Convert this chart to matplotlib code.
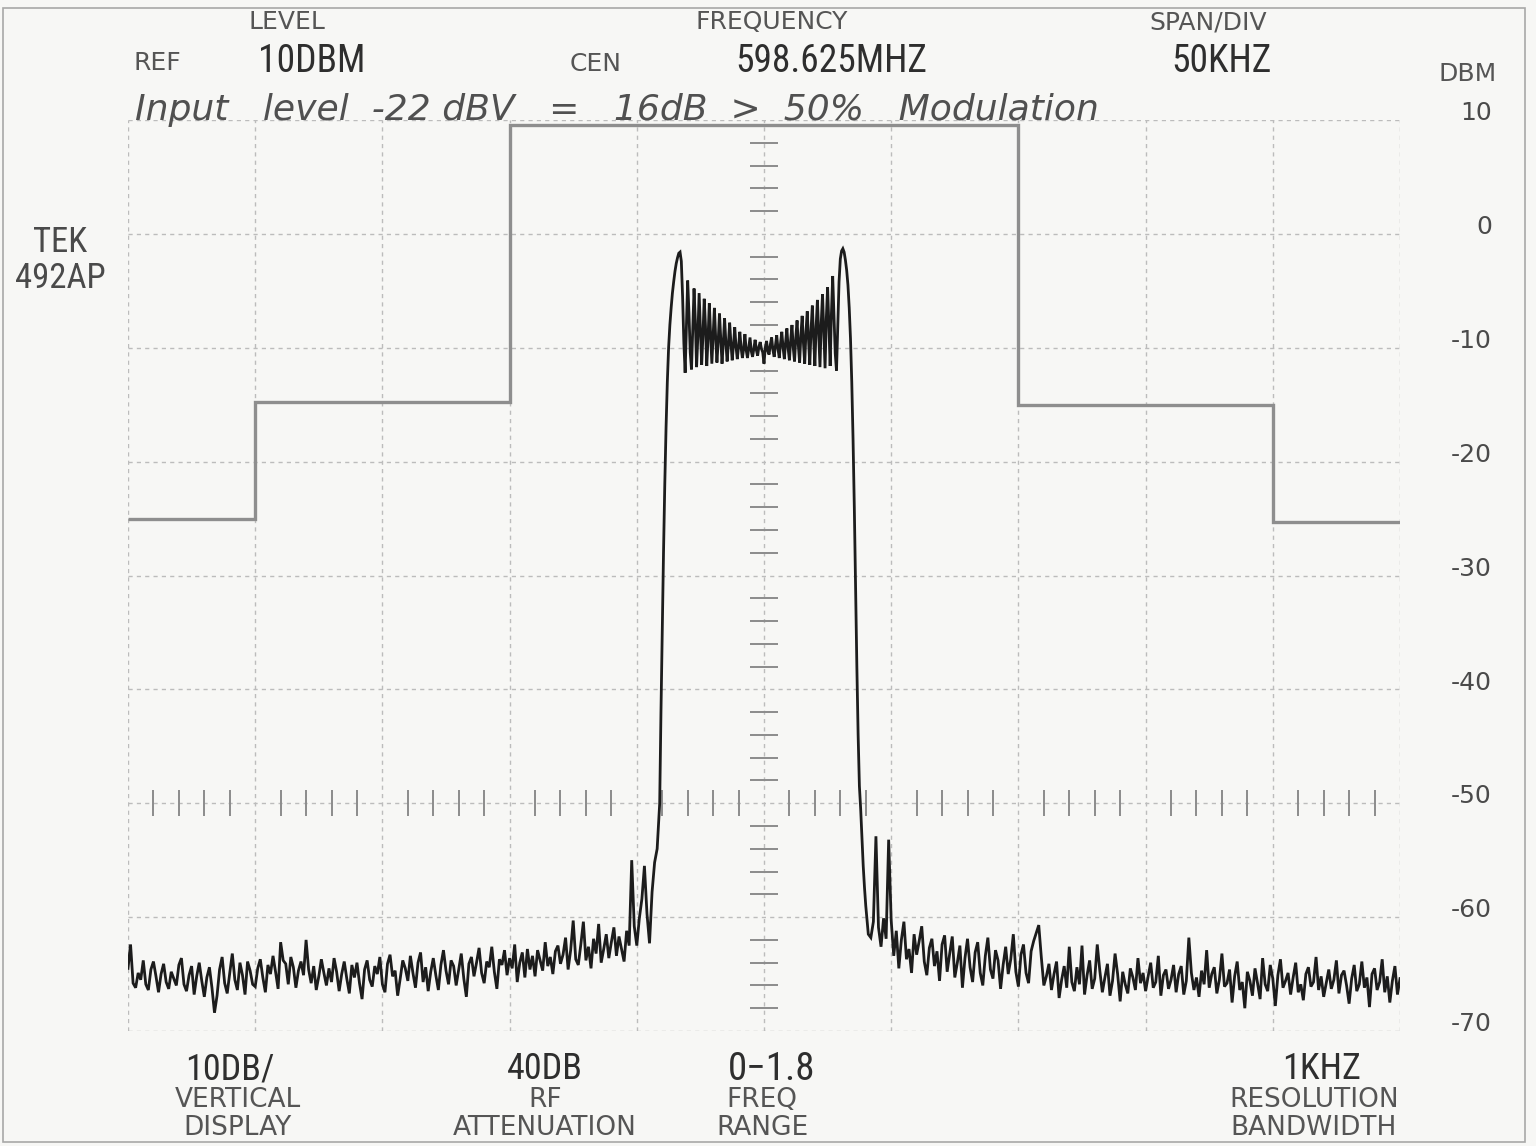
import numpy as np
import matplotlib
matplotlib.use("Agg")
import matplotlib.pyplot as plt
from matplotlib import font_manager
from matplotlib.patches import Rectangle
import matplotlib.transforms as mtransforms

# sweep centred on 598.625 MHz, offsets in kHz, levels in dBm
left_floor_dbm = [
    -64.5, -62.4, -65.8, -66.2, -64.9, -65.5, -63.8, -65.9, -66.4, -64.6,
    -63.9, -65.2, -66.6, -65.0, -64.1, -65.7, -66.3, -64.8, -65.4, -66.0,
    -64.2, -63.6, -65.9, -66.5, -65.1, -64.3, -66.8, -65.2, -64.0, -65.6,
    -67.0, -65.3, -64.4, -66.2, -68.4, -66.9, -64.6, -63.5, -65.8, -66.7,
    -64.9, -63.2, -65.5, -66.4, -64.0, -65.1, -66.8, -63.9, -64.7, -65.9,
    -66.1, -64.5, -63.7, -65.3, -66.6, -64.2, -65.0, -63.4, -64.8, -66.3,
    -62.2, -63.8, -64.1, -65.9, -63.5, -64.4, -66.2, -64.7, -63.9, -65.1,
    -62.0, -64.6, -65.8, -64.3, -66.4, -65.2, -63.7, -64.9, -66.0, -64.5,
    -65.7, -63.6, -64.8, -66.5, -65.0, -63.9, -65.4, -66.7, -64.2, -65.3,
    -64.0, -65.8, -67.2, -64.6, -63.8, -65.5, -66.1, -64.3, -65.0, -63.5,
    -65.9, -66.6, -64.1, -63.3, -65.2, -64.7, -66.9, -65.4, -63.8, -64.5,
    -65.6, -63.4, -64.9, -66.2, -64.0, -63.1, -65.7, -64.4, -66.5, -64.8,
    -63.6, -65.1, -66.4, -64.2, -62.9, -64.7, -65.9, -63.8, -64.3, -66.0,
    -64.6, -63.2, -65.4, -67.0, -64.1, -63.5, -65.2, -64.0, -62.7, -64.9,
    -65.8, -63.9, -64.4, -62.6, -64.8, -66.3, -63.7, -64.2, -62.9, -65.1,
    -63.6, -64.5, -62.4, -65.7, -64.0, -63.1, -65.3, -62.8, -64.6, -63.4,
    -65.2, -62.9, -63.8, -64.7, -62.2, -64.3, -63.5, -65.0, -63.0, -62.5,
    -64.1, -63.3, -61.8, -64.6, -62.9, -60.3, -63.7, -64.2, -62.4, -60.4,
    -63.8, -62.6, -64.5, -61.9, -63.2, -60.6, -64.0, -62.8, -61.5, -63.6,
    -62.2, -60.9, -63.4, -61.7, -62.8, -63.9, -61.2, -62.5, -55.0, -60.8,
    -62.5, -60.1, -58.4, -55.5, -59.7, -62.3, -57.8, -55.2, -54.0,
]

# carrier and modulation sidebands, -41 .. +41 kHz in 0.5 kHz steps
carrier_dbm = [
    -50.0, -42.0, -35.0, -28.0, -22.0, -17.0, -13.0, -10.0, -8.0, -6.5,
    -5.2, -4.2, -3.3, -2.6, -2.1, -1.7, -1.6, -2.4,
    -5.5, -9.6, -12.2, -8.0, -4.1, -6.9, -10.4, -11.9, -8.2, -4.8,
    -7.6, -11.7, -9.0, -5.2, -8.4, -11.5, -8.9, -5.7, -8.1, -11.6,
    -9.2, -6.1, -8.7, -11.4, -9.0, -6.5, -9.1, -11.3, -9.4, -7.0,
    -9.2, -11.4, -9.6, -7.4, -9.5, -11.2, -9.7, -7.8, -9.6, -11.1,
    -9.8, -8.2, -9.9, -11.0, -9.9, -8.6, -10.0, -10.9, -10.1, -8.8,
    -10.2, -10.9, -10.0, -9.1, -10.3, -10.8, -10.1, -9.3, -10.2, -10.7,
    -9.9, -9.5, -10.1, -10.4, -11.4, -10.0, -9.4, -10.3, -10.6, -9.7,
    -9.1, -10.2, -10.8, -9.8, -8.9, -10.1, -10.9, -9.6, -8.6, -10.0,
    -11.0, -9.5, -8.3, -10.1, -11.1, -9.3, -8.0, -10.0, -11.2, -9.1,
    -7.6, -9.8, -11.3, -8.9, -7.2, -9.6, -11.4, -8.6, -6.8, -9.3,
    -11.5, -8.4, -6.3, -9.1, -11.6, -8.1, -5.8, -8.8, -11.7, -7.8,
    -5.3, -8.5, -11.8, -7.4, -4.7, -8.0, -11.6, -7.0, -3.7, -7.2,
    -10.5, -12.0, -8.0, -4.2, -2.2, -1.5, -1.3, -1.6, -2.3, -3.2,
    -4.5, -6.5, -9.2, -13.0, -18.0, -24.0, -31.0, -38.0, -44.0, -48.5,
    -50.5, -53.0, -55.5, -57.4, -59.0, -60.2, -61.5,
]

right_floor_dbm = [
    -61.8, -60.4, -52.9, -60.9, -62.6, -60.1, -61.9, -53.2, -60.3, -63.4,
    -61.2, -64.5, -62.0, -60.4, -63.7, -62.8, -64.9, -61.5, -63.3, -62.1,
    -60.8, -63.9, -65.1, -62.7, -61.9, -64.3, -63.0, -65.6, -62.4, -61.6,
    -64.8, -63.2, -61.7, -65.3, -64.0, -62.5, -66.2, -63.6, -61.9, -64.4,
    -65.7, -63.1, -62.2, -64.9, -66.0, -63.4, -61.8, -64.6, -65.4, -62.9,
    -63.8, -66.3, -64.2, -62.6, -65.0, -63.7, -61.5, -64.8, -66.1, -63.3,
    -62.4, -64.9, -65.8, -63.0, -62.1, -61.4, -60.7, -63.5, -66.0, -65.2,
    -64.1, -66.4, -65.0, -63.9, -67.1, -65.5, -64.3, -66.2, -62.6, -65.7,
    -66.5, -64.4, -65.9, -62.5, -66.8, -65.1, -63.8, -66.3, -65.4, -62.4,
    -64.7, -66.6, -65.3, -64.1, -66.9, -65.6, -63.2, -65.0, -67.4, -64.8,
    -65.9, -66.7, -64.5, -65.3, -66.4, -63.6, -65.8, -64.9, -66.5, -65.2,
    -64.0, -66.2, -65.7, -63.4, -66.9, -65.1, -64.6, -66.3, -65.5, -64.2,
    -66.6, -65.0, -64.3, -66.8, -65.6, -61.8, -64.9, -66.4, -65.3, -67.0,
    -64.7, -65.9, -62.9, -66.2, -65.0, -64.4, -66.7, -65.5, -63.2, -66.1,
    -65.8, -64.6, -67.5, -65.2, -63.9, -66.4, -65.7, -68.0, -64.8, -65.6,
    -66.9, -64.5, -65.8, -67.2, -63.6, -65.9, -66.5, -64.2, -65.4, -67.8,
    -65.1, -63.7, -66.2, -65.6, -64.9, -66.8, -65.3, -64.0, -66.6, -65.9,
    -67.3, -65.0, -64.4, -66.1, -65.7, -63.5, -66.4, -65.2, -67.0, -65.8,
    -64.6, -66.3, -65.5, -63.8, -66.7, -65.1, -64.7, -66.0, -67.6, -65.4,
    -64.2, -66.5, -65.9, -63.9, -66.2, -65.3, -67.9, -65.0, -64.5, -66.4,
    -65.7, -63.7, -66.6, -65.2, -67.5, -65.6, -64.3, -66.8, -65.4,
]

left_floor_khz = np.arange(-250, -41, 1.0)
carrier_khz = np.arange(-41, 41.25, 0.5)
right_floor_khz = np.arange(42, 251, 1.0)

# limit mask edges (kHz) and levels (dBm)
mask_khz = [-250, -200, -100, 100, 200, 250]
mask_dbm = [-25.0, -14.8, 9.6, -15.0, -25.3]

level_ticks = [10, 0, -10, -20, -30, -40, -50, -60, -70]

trace_khz = np.concatenate([left_floor_khz, carrier_khz, right_floor_khz])
trace_dbm = np.concatenate([left_floor_dbm, carrier_dbm, right_floor_dbm])

W, H = 1536, 1146
paper = "#f7f7f5"

# narrow face for the large readouts if one is installed
names = {f.name for f in font_manager.fontManager.ttflist}
narrow = None
for cand in ["Liberation Sans Narrow", "Roboto Condensed", "Open Sans Condensed",
             "Noto Sans Condensed", "DejaVu Sans Condensed"]:
    if cand in names:
        narrow = cand
        break
plt.rcParams['font.family'] = ['DejaVu Sans']
big_font = dict(family=[narrow, 'DejaVu Sans']) if narrow else dict(fontstretch="condensed")

fig = plt.figure(figsize=(W / 100, H / 100), dpi=100, facecolor=paper)
ax = fig.add_axes([128 / W, 1 - 1031 / H, 1272 / W, 911 / H])
ax.set_facecolor(paper)
ax.set_xlim(-250, 250)
ax.set_ylim(-70, 10)

# graticule
grid_kw = dict(color="#bcbcbc", lw=1.0, ls=(0, (3, 3)), zorder=1)
for f in np.arange(-250, 251, 50):
    ax.axvline(f, **grid_kw)
for lv in level_ticks:
    ax.axhline(lv, **grid_kw)
for s in ax.spines.values():
    s.set_visible(False)
ax.set_xticks([])
ax.set_yticks([])

# minor marks along the centre line and the -50 dBm line
minor_lv = [v for v in np.arange(-68, 10, 2) if v % 10 != 0]
ax.plot([0] * len(minor_lv), minor_lv, ls="none", marker="_", ms=20,
        mew=1.4, color="#8c8c8c", zorder=2)
minor_f = [f for f in np.arange(-240, 250, 10) if f % 50 != 0]
ax.plot(minor_f, [-50] * len(minor_f), ls="none", marker="|", ms=19,
        mew=1.4, color="#8c8c8c", zorder=2)

ax.stairs(mask_dbm, mask_khz, baseline=None, color="#8e8e8e", lw=2.4, zorder=3)
ax.plot(trace_khz, trace_dbm, color="#1c1c1c", lw=2.0, zorder=4,
        solid_joinstyle="miter")

# level scale on the right
lab_tr = mtransforms.blended_transform_factory(fig.transFigure, ax.transData)
for lv in level_ticks:
    ax.text(1492 / W, lv + 0.6, str(lv), transform=lab_tr, ha="right",
            va="center", fontsize=18, color="#4a4a4a")


def put(x, y, s, size, color="#555555", **kw):
    fig.text(x / W, 1 - y / H, s, fontsize=size, color=color,
             ha="center", va="center", **kw)


put(287, 22, "LEVEL", 18)
put(157, 63, "REF", 18)
put(312, 61, "10DBM", 27, "#2e2e2e", **big_font)
put(772, 22, "FREQUENCY", 18)
put(596, 64, "CEN", 18)
put(831, 61, "598.625MHZ", 27, "#2e2e2e", **big_font)
put(1208, 22, "SPAN/DIV", 18)
put(1222, 61, "50KHZ", 27, "#2e2e2e", **big_font)
put(1468, 74, "DBM", 18)
put(60, 243, "TEK", 25, "#4a4a4a", **big_font)
put(60, 279, "492AP", 25, "#4a4a4a", **big_font)

put(230, 1069, "10DB/", 26, "#2e2e2e", **big_font)
put(238, 1100, "VERTICAL", 19)
put(238, 1128, "DISPLAY", 19)
put(545, 1069, "40DB", 26, "#2e2e2e", **big_font)
put(545, 1100, "RF", 19)
put(545, 1128, "ATTENUATION", 19)
put(772, 1069, "0\u22121.8", 28, "#2e2e2e", **big_font)
put(762, 1100, "FREQ", 19)
put(762, 1128, "RANGE", 19)
put(1322, 1069, "1KHZ", 26, "#2e2e2e", **big_font)
put(1314, 1100, "RESOLUTION", 19)
put(1314, 1128, "BANDWIDTH", 19)

# pen note written above the graticule
fig.text(135 / W, 1 - 120 / H,
         "Input   level  -22 dBV   =   16dB  >  50%   Modulation",
         fontsize=26, color="#505050", ha="left", va="baseline",
         family="DejaVu Sans", fontstyle="italic", fontweight="light")

fig.patches.append(Rectangle((3 / W, 1 - 1142 / H), 1522 / W, 1134 / H,
                             transform=fig.transFigure, fill=False,
                             ec="#a8a8a8", lw=1.2))

fig.savefig("out.png", dpi=100, facecolor=paper)
